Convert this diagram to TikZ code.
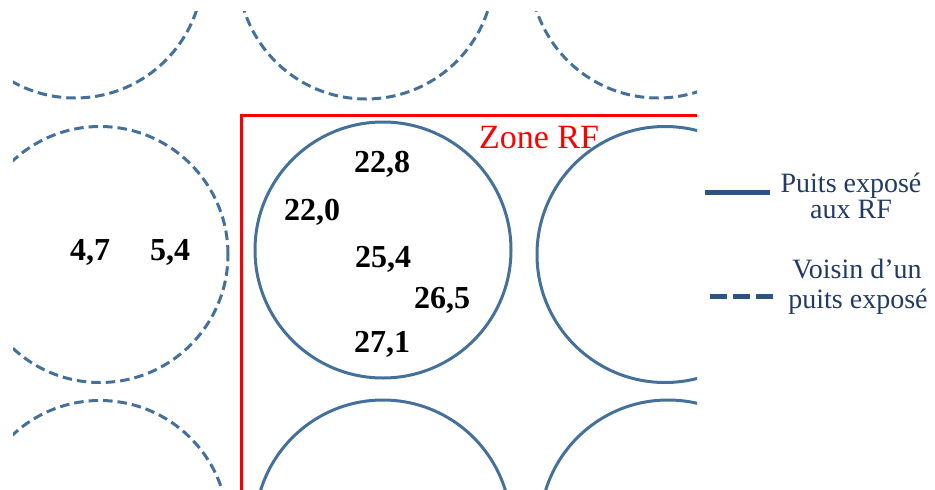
\documentclass[tikz,border=0pt]{standalone}
\usepackage{fontspec}
\setmainfont{Liberation Serif}
\definecolor{well}{HTML}{44709B}
\definecolor{legendc}{HTML}{2B5484}
\definecolor{txtnavy}{HTML}{223A64}
\begin{document}
\begin{tikzpicture}[x=1pt,y=-1pt,
  wellsolid/.style={circle, draw=well, line width=3pt, minimum size=256pt, inner sep=0pt},
  welldash/.style={wellsolid, dash pattern=on 9.5pt off 5pt},
  val/.style={font=\bfseries\fontsize{32}{34}\selectfont, anchor=base, inner sep=0pt},
  zone/.style={draw=red, line width=3pt},
  legtxt/.style={font=\fontsize{28}{30}\selectfont, text=txtnavy, anchor=base, inner sep=0pt},
  legline/.style={draw=legendc, line width=5pt}]
\useasboundingbox (0,0) rectangle (935,490);
\begin{scope}
  \clip (13,11) rectangle (697,490);
  % top row (neighbours)
  \node[welldash] (tl) at (75,-30) {};
  \node[welldash] (tm) at (366,-29) {};
  \node[welldash] (tr) at (658,-30) {};
  % middle row
  \node[welldash]  (ml) at (100,254.5) {};
  \node[wellsolid] (mm) at (383,250) {};
  \node[wellsolid] (mr) at (665,254.5) {};
  % bottom row
  \node[welldash]  (bl) at (100,528.5) {};
  \node[wellsolid] (bm) at (383,528) {};
  \node[wellsolid] (br) at (668,528) {};
  % RF zone
  \coordinate (zb) at (241,495);
  \coordinate (zc) at (241,115);
  \coordinate (zr) at (700,115);
  \draw[zone] (zb) -- (zc) -- (zr);
\end{scope}
\node[font=\fontsize{34}{36}\selectfont, text=red, anchor=base, inner sep=0pt] (zlabel) at (539,148) {Zone RF};
% values
\node[val] (v1) at (382,172) {22,8};
\node[val] (v2) at (312,220) {22,0};
\node[val] (v3) at (383,267) {25,4};
\node[val] (v4) at (442,308) {26,5};
\node[val] (v5) at (382,352) {27,1};
\node[val] (v6) at (90,260) {4,7};
\node[val] (v7) at (170,260) {5,4};
% legend
\coordinate (l1a) at (705,192);
\coordinate (l1b) at (770,192);
\draw[legline] (l1a) -- (l1b);
\coordinate (l2a) at (710,296);
\coordinate (l2b) at (773,296);
\draw[legline, dash pattern=on 17pt off 6pt] (l2a) -- (l2b);
\node[legtxt] (t1) at (851,192) {Puits exposé};
\node[legtxt] (t2) at (851,218) {aux RF};
\node[legtxt] (t3) at (857,278) {Voisin d’un};
\node[legtxt] (t4) at (858,308) {puits exposé};
\end{tikzpicture}
\end{document}
